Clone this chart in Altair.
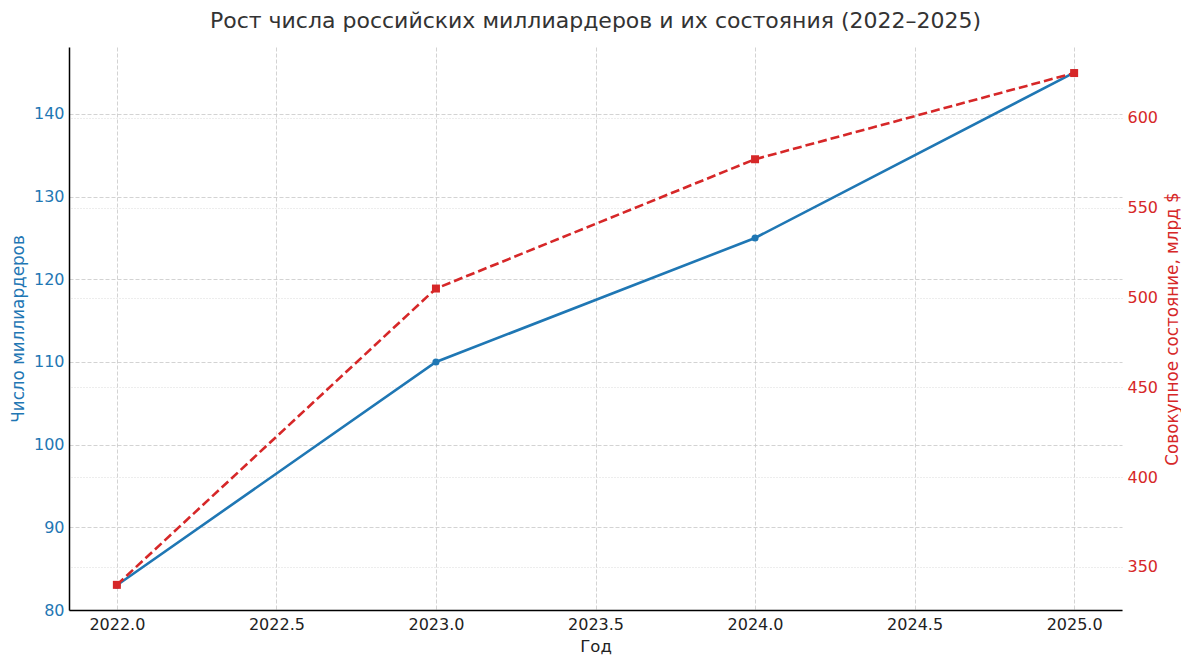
import altair as alt
import pandas as pd

years = [2022, 2023, 2024, 2025]
billionaires = [83, 110, 125, 145]
wealth = [340, 505, 577, 625]
x_ticks = [2022.0, 2022.5, 2023.0, 2023.5, 2024.0, 2024.5, 2025.0]
left_ticks = [80, 90, 100, 110, 120, 130, 140]
right_ticks = [350, 400, 450, 500, 550, 600]

BLUE = "#1f77b4"
RED = "#d62728"
FONT = "DejaVu Sans"

df = pd.DataFrame({"year": years, "count": billionaires, "wealth": wealth})

x_enc = alt.X(
    "year:Q",
    scale=alt.Scale(domain=[2021.85, 2025.15], nice=False, zero=False),
    axis=alt.Axis(
        values=x_ticks, format=".1f", title="Год", grid=True,
        gridDash=[4, 2], gridColor="#c8c8c8", gridWidth=0.8,
        domainColor="black", domainWidth=1.5, ticks=False,
        labelPadding=6, labelFontSize=16, labelColor="#222",
        titleFontSize=16.5, titleFontWeight="normal", titleColor="#222", titlePadding=6,
    ),
)

base = alt.Chart(df)

blue = base.mark_line(
    color=BLUE, strokeWidth=2.6,
    point=alt.OverlayMarkDef(filled=True, shape="circle", size=50, color=BLUE),
).encode(
    x=x_enc,
    y=alt.Y(
        "count:Q",
        scale=alt.Scale(domain=[80, 148.1], nice=False, zero=False),
        axis=alt.Axis(
            orient="left", values=left_ticks, title="Число миллиардеров",
            grid=True, gridDash=[4, 2], gridColor="#c8c8c8", gridWidth=0.8,
            domainColor="black", domainWidth=1.5, ticks=False,
            labelPadding=5, labelFontSize=16, labelColor=BLUE,
            titleFontSize=16.8, titleFontWeight="normal", titleColor=BLUE, titlePadding=6,
        ),
    ),
)

red = base.mark_line(
    color=RED, strokeWidth=2.6, strokeDash=[9, 4],
    point=alt.OverlayMarkDef(filled=True, shape="square", size=64, color=RED),
).encode(
    x=x_enc,
    y=alt.Y(
        "wealth:Q",
        scale=alt.Scale(domain=[326, 639.5], nice=False, zero=False),
        axis=alt.Axis(
            orient="right", values=right_ticks, title="Совокупное состояние, млрд $",
            grid=True, gridDash=[1, 2], gridColor="#d0d0d0", gridWidth=0.8,
            domain=False, ticks=False,
            labelPadding=5, labelFontSize=16, labelColor=RED,
            titleFontSize=16.8, titleFontWeight="normal", titleColor=RED,
            titleAngle=270, titleBaseline="middle", titleAlign="center",
            titleX=50, titleY=281.5,
        ),
    ),
)

chart = alt.layer(blue, red).resolve_scale(y="independent").properties(
    width=1053, height=563,
    title=alt.TitleParams(
        "Рост числа российских миллиардеров и их состояния (2022–2025)",
        fontSize=22, font=FONT, fontWeight="normal", color="#333", offset=14,
    ),
    padding={"left": 2, "right": 0, "top": 2, "bottom": 0},
).configure(font=FONT).configure_view(stroke=None)

chart.save("out.html", embed_options={"renderer": "svg", "actions": False})
